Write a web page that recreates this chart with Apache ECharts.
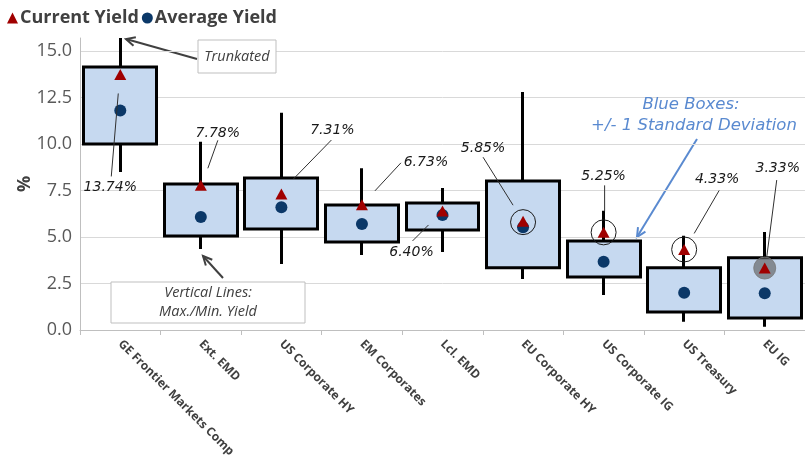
<!DOCTYPE html>
<html>
<head>
<meta charset="utf-8">
<script src="https://cdn.jsdelivr.net/npm/echarts@6/dist/echarts.min.js"></script>
<style>
  html, body { margin: 0; padding: 0; background: #fff; }
  #chart { width: 805px; height: 455px; }
</style>
</head>
<body>
<div id="chart"></div>
<script>
const categories = ['GE Frontier Markets Comp.', 'Ext. EMD', 'US Corporate HY', 'EM Corporates', 'Lcl. EMD', 'EU Corporate HY', 'US Corporate IG', 'US Treasury', 'EU IG']
const currentYield = [13.74, 7.78, 7.31, 6.73, 6.40, 5.85, 5.25, 4.33, 3.33]
const averageYield = [11.8, 6.07, 6.6, 5.7, 6.18, 5.53, 3.67, 2.0, 1.98]
const boxLow = [10.0, 5.05, 5.43, 4.73, 5.38, 3.35, 2.85, 0.97, 0.64]
const boxHigh = [14.14, 7.85, 8.17, 6.72, 6.83, 8.01, 4.78, 3.35, 3.89]
const minYield = [8.5, 4.35, 3.55, 4.03, 4.19, 2.74, 1.88, 0.45, 0.18]
const maxYield = [15.7, 10.12, 11.68, 8.7, 7.63, 12.8, 6.41, 5.07, 5.27]
const circled = [null, null, null, null, null, 5.8, 5.25, 4.33, null]
const shaded = [null, null, null, null, null, null, null, null, 3.33]
const yTicks = [0, 2.5, 5, 7.5, 10, 12.5, 15]

// callout layout in px relative to each triangle: [labelX, labelY, lineX1, lineY1, lineX2, lineY2]
const callouts = [
  [-10, 113, -2, 19, -9, 102],
  [17, -52, 7, -17, 17, -45],
  [51, -64, 12, -15, 50, -54],
  [64, -42, 13, -14, 39, -42],
  [-31, 41, -14, 14, -30, 30],
  [-40, -73, -10, -16, -40, -64],
  [0, -56, 1, -21, 1, -47],
  [33, -70, 10, -16, 35, -59],
  [13, -100, 2, -11, 12, -88]
]

const chart = echarts.init(document.getElementById('chart'))

const RED = '#a00000'
const NAVY = '#0b3868'

function arrow(x1, y1, x2, y2, color) {
  const a = Math.atan2(y2 - y1, x2 - x1)
  const len = 10, spread = 0.45
  return [
    { type: 'line', shape: { x1, y1, x2, y2 }, style: { stroke: color, lineWidth: 2 } },
    {
      type: 'polyline',
      shape: { points: [
        [x2 - len * Math.cos(a - spread), y2 - len * Math.sin(a - spread)],
        [x2, y2],
        [x2 - len * Math.cos(a + spread), y2 - len * Math.sin(a + spread)]
      ] },
      style: { stroke: color, lineWidth: 2, fill: null }
    }
  ]
}

const noteFont = 'italic 14.5px "Open Sans", sans-serif'
const blueFont = 'italic 16.5px "DejaVu Sans", sans-serif'

chart.setOption({
  animation: false,
  legend: {
    left: 2,
    top: 4,
    itemGap: 3,
    itemWidth: 11,
    itemHeight: 11,
    textStyle: { fontSize: 18, fontWeight: 'bold', color: '#404040', fontFamily: 'Open Sans', padding: [0, 0, 0, -3] },
    data: [
      { name: 'Current Yield', icon: 'triangle', itemStyle: { color: RED } },
      { name: 'Average Yield', icon: 'circle', itemStyle: { color: NAVY } }
    ]
  },
  grid: { left: 80, right: 0, top: 38, bottom: 125, outerBoundsMode: 'none' },
  xAxis: {
    type: 'category',
    data: categories,
    axisLine: { lineStyle: { color: '#bfbfbf', width: 1 } },
    axisTick: { show: true, length: 5, lineStyle: { color: '#bfbfbf' } },
    axisLabel: {
      interval: 0,
      rotate: -45,
      margin: 12,
      fontSize: 12,
      fontWeight: 'bold',
      color: '#404040',
      fontFamily: 'Open Sans'
    }
  },
  yAxis: {
    type: 'value',
    min: 0,
    max: 15.7,
    interval: 2.5,
    name: '%',
    nameLocation: 'middle',
    nameGap: 46,
    nameMoveOverlap: false,
    nameTextStyle: { fontSize: 18, fontWeight: 'bold', color: '#404040', fontFamily: 'Open Sans' },
    axisLine: { show: true, lineStyle: { color: '#bfbfbf' } },
    axisTick: { show: false },
    axisLabel: {
      margin: 8,
      fontSize: 18,
      color: '#595959',
      fontFamily: 'Open Sans',
      showMaxLabel: false,
      formatter: v => yTicks.indexOf(v) >= 0 ? v.toFixed(1) : ''
    },
    splitLine: { show: true, showMaxLine: false, lineStyle: { color: '#d9d9d9', width: 1 } }
  },
  series: [
    {
      name: 'Range',
      type: 'candlestick',
      barWidth: '91%',
      barMaxWidth: 200,
      data: categories.map((c, i) => [boxLow[i], boxHigh[i], minYield[i], maxYield[i]]),
      itemStyle: {
        color: '#c6d9f0',
        color0: '#c6d9f0',
        borderColor: '#000',
        borderColor0: '#000',
        borderWidth: 3
      },
      z: 2
    },
    {
      name: 'Shade',
      type: 'scatter',
      symbol: 'circle',
      symbolSize: 22,
      data: shaded,
      itemStyle: { color: 'rgba(95,95,95,0.65)', borderColor: 'rgba(120,120,120,0.8)', borderWidth: 1, opacity: 1 },
      z: 3
    },
    {
      name: 'Average Yield',
      type: 'scatter',
      symbol: 'circle',
      symbolSize: 12,
      data: averageYield,
      itemStyle: { color: NAVY, opacity: 1 },
      z: 4
    },
    {
      name: 'Current Yield',
      type: 'scatter',
      symbol: 'triangle',
      symbolSize: [12, 11],
      data: currentYield,
      itemStyle: { color: RED, opacity: 1 },
      z: 5
    },
    {
      name: 'Circle',
      type: 'scatter',
      symbol: 'circle',
      symbolSize: 25,
      data: circled,
      itemStyle: { color: 'rgba(0,0,0,0)', borderColor: '#1a1a1a', borderWidth: 1, opacity: 1 },
      z: 6
    },
    {
      name: 'Callouts',
      type: 'custom',
      data: currentYield.map((v, i) => [i, v]),
      renderItem: (params, api) => {
        const i = params.dataIndex
        const p = api.coord([api.value(0), api.value(1)])
        const c = callouts[i]
        return {
          type: 'group',
          children: [
            {
              type: 'line',
              shape: { x1: p[0] + c[2], y1: p[1] + c[3], x2: p[0] + c[4], y2: p[1] + c[5] },
              style: { stroke: '#303030', lineWidth: 1 }
            },
            {
              type: 'text',
              x: p[0] + c[0],
              y: p[1] + c[1],
              style: {
                text: api.value(1).toFixed(2) + '%',
                font: 'italic 14px "DejaVu Sans", sans-serif',
                fill: '#1a1a1a',
                align: 'center',
                verticalAlign: 'middle'
              }
            }
          ]
        }
      },
      z: 7
    }
  ],
  graphic: [
    { type: 'rect', shape: { x: 198, y: 40, width: 78, height: 33 }, style: { fill: '#fff', stroke: '#bfbfbf', lineWidth: 1 }, z: 10 },
    { type: 'text', x: 237, y: 57, style: { text: 'Trunkated', font: noteFont, fill: '#404040', align: 'center', verticalAlign: 'middle' }, z: 11 },
    ...arrow(197, 59, 126, 39, '#404040'),
    { type: 'rect', shape: { x: 111, y: 282, width: 194, height: 41 }, style: { fill: '#fff', stroke: '#bfbfbf', lineWidth: 1 }, z: 10 },
    { type: 'text', x: 208, y: 293, style: { text: 'Vertical Lines:', font: noteFont, fill: '#404040', align: 'center', verticalAlign: 'middle' }, z: 11 },
    { type: 'text', x: 208, y: 312, style: { text: 'Max./Min. Yield', font: noteFont, fill: '#404040', align: 'center', verticalAlign: 'middle' }, z: 11 },
    ...arrow(223, 278, 203, 256, '#404040'),
    { type: 'text', x: 691, y: 105, style: { text: 'Blue Boxes:', font: blueFont, fill: '#5a8ad0', align: 'center', verticalAlign: 'middle' }, z: 11 },
    { type: 'text', x: 694, y: 126, style: { text: '+/- 1 Standard Deviation', font: blueFont, fill: '#5a8ad0', align: 'center', verticalAlign: 'middle' }, z: 11 },
    ...arrow(697, 139, 637, 237, '#5a8ad0')
  ]
})
</script>
</body>
</html>
